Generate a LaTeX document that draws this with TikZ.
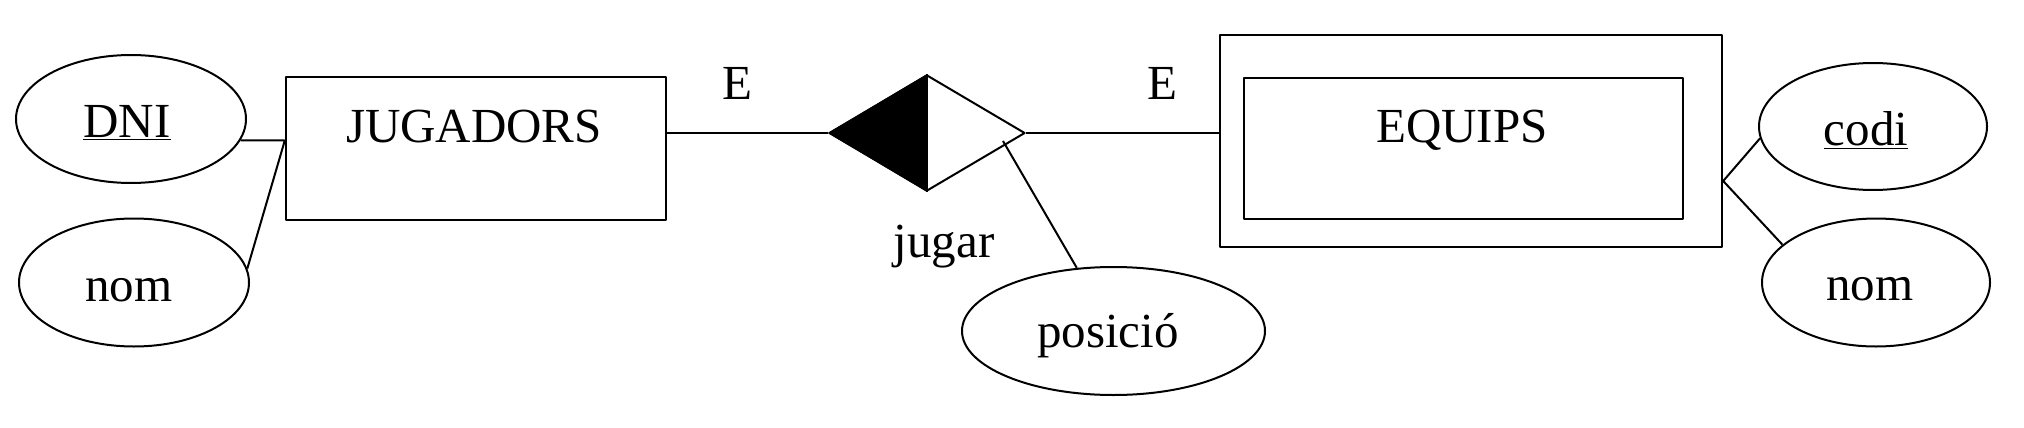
\documentclass[tikz,border=0pt]{standalone}
\usepackage{fontspec}
\setmainfont{Liberation Serif}
\usetikzlibrary{shapes.geometric}
\begin{document}
\begin{tikzpicture}[x=0.5pt,y=-0.5pt,line join=round,line width=1pt,
	font=\fontsize{24.5}{29}\selectfont,
	atribut/.style={draw,ellipse,inner sep=0pt,minimum width=115pt,minimum height=64pt},
	entitat/.style={draw,rectangle,inner sep=0pt,line width=1.2pt},
	etiqueta/.style={anchor=base,inner sep=0pt}]
	\useasboundingbox (0,0) rectangle (2024,428);
	% Entitat JUGADORS
	\node[entitat,minimum width=190pt,minimum height=71.5pt] (jugadors) at (476,148.5) {};
	\node[etiqueta] (tjug) at (474,142) {JUGADORS};
	\node[atribut] (dni) at (131,119) {};
	\node[etiqueta] (tdni) at (127,137) {\underline{DNI}};
	\node[atribut] (nomj) at (134,282.5) {};
	\node[etiqueta] (tnomj) at (129,301) {nom};
	\coordinate (ja) at ([yshift=4pt]jugadors.west);
	\draw (dni.-11.4) -- (ja) -- (nomj.7.3);
	% Relacio jugar
	\node[draw,diamond,inner sep=0pt,minimum width=98pt,minimum height=58pt] (jugar) at (927,133) {};
	\fill (jugar.west) -- (jugar.north) -- (jugar.south) -- cycle;
	\draw (jugar.north) -- (jugar.south);
	\node[etiqueta] (tjugar) at (944,257) {jugar};
	\node[atribut,minimum width=151.5pt] (posicio) at (1113.5,331) {};
	\node[etiqueta] (tposicio) at (1108,347) {posició};
	\coordinate (pj) at (1003,141);
	\draw (pj) -- (posicio);
	% Entitat EQUIPS
	\node[entitat,minimum width=251pt,minimum height=106pt] (equips) at (1471,141) {};
	\node[entitat,minimum width=219.5pt,minimum height=70.5pt] (equipsin) at (1463.5,148.5) {};
	\node[etiqueta] (tequips) at (1462,142) {EQUIPS};
	\node[atribut,minimum width=114pt,minimum height=63.5pt] (codi) at (1873,126.5) {};
	\node[etiqueta] (tcodi) at (1866,145) {\underline{codi}};
	\node[atribut,minimum width=114pt] (nomq) at (1876,282.5) {};
	\node[etiqueta] (tnomq) at (1870,300) {nom};
	\coordinate (eq) at ([yshift=-20pt]equips.east);
	\draw (codi.186.9) -- (eq) -- (nomq.158.7);
	% Connexions
	\draw (jugar.west -| jugadors.east) -- (jugar.west);
	\draw (jugar.east) -- (jugar.east -| equips.west);
	\node[etiqueta] (e1) at (737,99) {E};
	\node[etiqueta] (e2) at (1162,99) {E};
\end{tikzpicture}
\end{document}
